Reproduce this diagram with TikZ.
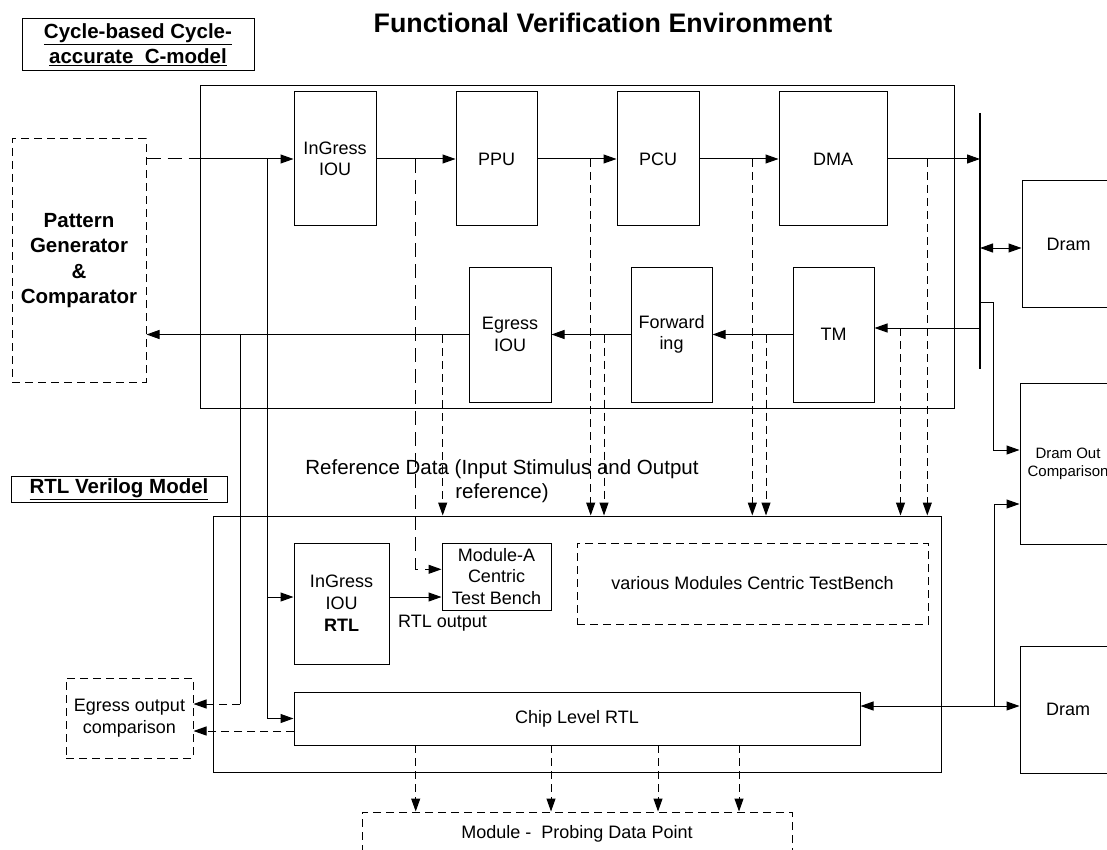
\documentclass[tikz,border=0pt]{standalone}
\usepackage{fontspec}
\setmainfont{Liberation Sans}
\usetikzlibrary{arrows.meta,calc}
\newcommand\fsz[2]{\fontsize{#1}{#2}\selectfont}
\begin{document}
\begin{tikzpicture}[x=1pt,y=-1pt,
  box/.style={draw, line width=1pt, inner sep=0pt, align=center, font=\fsz{18}{21.5}},
  dsh/.style={dash pattern=on 8pt off 5pt},
  ldsh/.style={dash pattern=on 14pt off 7pt},
  dbox/.style={box, dsh},
  con/.style={line width=1pt},
  arr/.style={con, -{Triangle[length=13pt,width=9pt]}},
  darr/.style={con, {Triangle[length=13pt,width=9pt]}-{Triangle[length=13pt,width=9pt]}},
  lbl/.style={inner sep=0pt, align=center},
  bus/.style={line width=2.5pt}]
\useasboundingbox (0,0) rectangle (1107,850);
\clip (0,0) rectangle (1107,850);

% titles and labels
\node[lbl, font=\fsz{26.8}{30}\bfseries] (title) at (603,23) {Functional Verification Environment};
\node[box, minimum width=232pt, minimum height=52pt, font=\fsz{20.5}{25}\bfseries] (clabel) at (138,45)
  {\underline{Cycle-based Cycle-}\\\underline{accurate\ \ C-model}};
\node[box, minimum width=216pt, minimum height=26pt, font=\fsz{20.5}{25}\bfseries] (rlabel) at (119,489)
  {\underline{RTL Verilog Model}};

% C-model box and blocks
\node[box, minimum width=754pt, minimum height=322pt] (cbox) at (577,247) {};
\node[box, minimum width=82pt, minimum height=134pt] (ingress) at (335,159) {InGress\\IOU};
\node[box, minimum width=81pt, minimum height=134pt] (ppu) at (496.5,159) {PPU};
\node[box, minimum width=82pt, minimum height=134pt] (pcu) at (658,159) {PCU};
\node[box, minimum width=108pt, minimum height=134pt] (dma) at (833,159) {DMA};
\node[box, minimum width=82pt, minimum height=135pt] (egress) at (510,334.5) {Egress\\IOU};
\node[box, minimum width=81pt, minimum height=135pt] (fwd) at (671.5,334.5) {Forward\\ing};
\node[box, minimum width=81pt, minimum height=135pt] (tm) at (833.5,334.5) {TM};

\node[dbox, minimum width=134pt, minimum height=243pt, font=\fsz{20.5}{25.5}\bfseries] (pg) at (79,260.5)
  {Pattern\\Generator\\\&\\Comparator};

% bus and drams
\coordinate (bustop) at (980,113);
\coordinate (busbot) at (980,369);
\draw[bus] (bustop) -- (busbot);
\node[box, minimum width=93pt, minimum height=126pt] (dram1) at (1068.5,244) {Dram};
\node[box, minimum width=96pt, minimum height=161pt, font=\fsz{15}{18}] (doc) at (1068,463.5) {Dram Out\\Comparison};
\node[box, minimum width=96pt, minimum height=127pt] (dram2) at (1068,709.5) {Dram};

% RTL box
\node[box, minimum width=728pt, minimum height=256pt] (rtl) at (577,644) {};
\node[box, minimum width=95pt, minimum height=121pt, font=\fsz{18}{22}] (ingrtl) at (341.5,603.5) {InGress\\IOU\\\textbf{RTL}};
\node[box, minimum width=109pt, minimum height=67pt, font=\fsz{18}{21.3}] (modA) at (496.5,576.5) {Module-A\\Centric\\Test Bench};
\node[dbox, minimum width=351pt, minimum height=81pt] (various) at (752.5,583.5) {various Modules Centric TestBench};
\node[box, minimum width=566pt, minimum height=53pt] (chip) at (577,718.5) {Chip Level RTL};
\node[dbox, minimum width=127pt, minimum height=80pt] (egcmp) at (129.5,718) {Egress output\\comparison};
\node[dbox, minimum width=430pt, minimum height=43pt] (probe) at (577,833.5) {Module -\ \ Probing Data Point};

\node[lbl, font=\fsz{20.5}{24}] (refdata) at (502,481) {Reference Data (Input Stimulus and Output\\reference)};
\node[lbl, font=\fsz{18}{21}] (rtlout) at (442.5,623) {RTL output};

% top flow
\coordinate (cin) at (200,159);
\draw[con, ldsh] (pg.east |- ingress.west) -- (cin);
\draw[arr] (cin) -- (ingress.west);
\draw[arr] (ingress.east) -- (ppu.west);
\draw[arr] (ppu.east) -- (pcu.west);
\draw[arr] (pcu.east) -- (dma.west);
\draw[arr] (dma.east) -- (dma.east -| bustop);

% bus connections
\coordinate (b2) at (980,248);
\draw[darr] (b2) -- (b2 -| dram1.west);
\coordinate (b3) at (980,328);
\draw[arr] (b3) -- (b3 -| tm.east);
\coordinate (b4) at (980,302);
\coordinate (b4r) at (993,302);
\coordinate (b4d) at (993,450);
\draw[arr] (b4) -- (b4r) -- (b4d) -- (b4d -| doc.west);

% bottom flow of C-model
\draw[arr] (tm.west) -- (fwd.east);
\draw[arr] (fwd.west) -- (egress.east);
\draw[arr] (egress.west) -- (pg.east |- egress.west);

% left verticals
\coordinate (l1top) at (267,159);
\coordinate (l1mid) at (267,597);
\coordinate (l1bot) at (267,718.5);
\draw[con] (l1top) -- (l1bot);
\draw[arr] (l1bot) -- (chip.west);
\draw[arr] (l1mid) -- (l1mid -| ingrtl.west);
\coordinate (l2top) at (240,335);
\coordinate (l2bot) at (240,704);
\draw[con] (l2top) -- (l2bot);
\draw[arr, dsh] (l2bot) -- (l2bot -| egcmp.east);
\coordinate (c2) at (294,731);
\draw[arr, dsh] (c2) -- (c2 -| egcmp.east);

% RTL-side connections
\draw[arr] (ingrtl.east |- l1mid) -- (l1mid -| modA.west);
\coordinate (m1) at (415.7,159);
\coordinate (m2) at (415.7,569.3);
\draw[arr, ldsh] (m1) -- (m2) -- (m2 -| modA.west);

% reference data dashed arrows
\foreach \i/\x/\y in {1/442.7/335, 2/590.7/159, 3/604/334.5, 4/752.3/159, 5/766/334.5, 6/900.5/328, 7/927.3/159}{
  \coordinate (d\i) at (\x,\y);
  \draw[arr, dsh] (d\i) -- (d\i |- rtl.north);
}

% chip <-> dram2, dram out comparison
\coordinate (cj) at (994,706);
\coordinate (cu) at (994,504);
\draw[darr] (chip.east |- cj) -- (cj -| dram2.west);
\draw[arr] (cj) -- (cu) -- (cu -| doc.west);

% probing arrows
\foreach \i/\x in {1/415.7, 2/551, 3/658, 4/739}{
  \coordinate (p\i) at (\x,745);
  \draw[arr, dsh] (p\i) -- (p\i |- probe.north);
}
\end{tikzpicture}
\end{document}
